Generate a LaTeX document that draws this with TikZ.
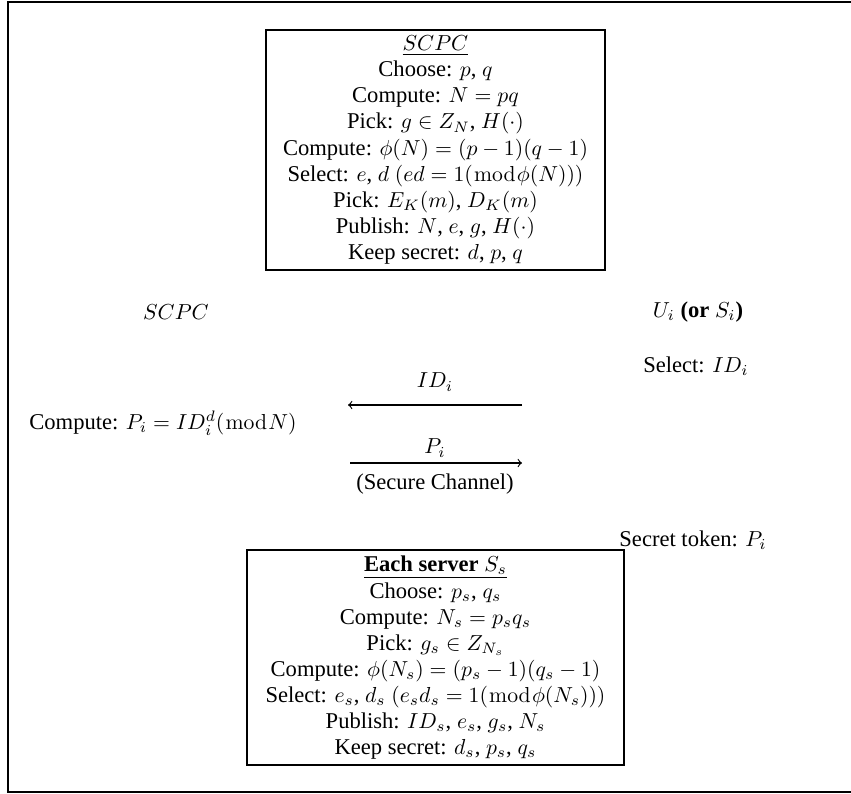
\documentclass[tikz,border=0pt]{standalone}
\usepackage[no-math]{fontspec}
\setmainfont{Liberation Serif}
\usepackage{amsmath,amssymb}
\begin{document}
\begin{tikzpicture}[x=0.4608pt,y=-0.4608pt,
  every node/.style={inner sep=0pt,outer sep=0pt,font=\fontsize{10.4}{12}\selectfont},
  infobox/.style={draw,line width=0.6pt,align=center},
  lbl/.style={anchor=center},
  msg/.style={line width=0.5pt}]
\useasboundingbox (0,0) rectangle (851,794);
\draw[line width=0.8pt] (851,2) -- (8,2) -- (8,792) -- (851,792);

\node[infobox,minimum width=339*0.4608pt,minimum height=240*0.4608pt] (scpcbox) at (435.5,150)
 {\underline{$SCPC$}\\
  Choose: $p$, $q$\\
  Compute: $N=pq$\\
  Pick: $g\in Z_N$, $H(\cdot)$\\
  Compute: $\phi(N)=(p-1)(q-1)$\\
  Select: $e$, $d$ $(ed=1(\bmod\phi(N)))$\\
  Pick: $E_K(m)$, $D_K(m)$\\
  Publish: $N$, $e$, $g$, $H(\cdot)$\\
  Keep secret: $d$, $p$, $q$};

\node[lbl] (scpc) at (176,312) {$SCPC$};
\node[lbl] (user) at (698,312) {$U_i$ \textbf{(or} $S_i$\textbf{)}};
\node[lbl] (selid) at (696,366) {Select: $ID_i$};
\node[lbl] (idlbl) at (435,382) {$ID_i$};
\coordinate (idR) at (522,405);
\coordinate (idL) at (348,405);
\draw[msg,->] (idR) -- (idL);
\node[lbl] (compute) at (163,423) {Compute: $P_i=ID_i^d(\bmod N)$};
\node[lbl] (pilbl) at (435,448) {$P_i$};
\coordinate (piL) at (350,463);
\coordinate (piR) at (522,463);
\draw[msg,->] (piL) -- (piR);
\node[lbl] (secch) at (435,484) {(Secure Channel)};
\node[lbl] (token) at (693,540) {Secret token: $P_i$};

\node[infobox,minimum width=377*0.4608pt,minimum height=215*0.4608pt] (srvbox) at (435.5,657.5)
 {\underline{\textbf{Each server} $S_s$}\\[0.5pt]
  Choose: $p_s$, $q_s$\\
  Compute: $N_s=p_sq_s$\\
  Pick: $g_s\in Z_{N_s}$\\
  Compute: $\phi(N_s)=(p_s-1)(q_s-1)$\\
  Select: $e_s$, $d_s$ $(e_sd_s=1(\bmod\phi(N_s)))$\\
  Publish: $ID_s$, $e_s$, $g_s$, $N_s$\\
  Keep secret: $d_s$, $p_s$, $q_s$};
\end{tikzpicture}
\end{document}
